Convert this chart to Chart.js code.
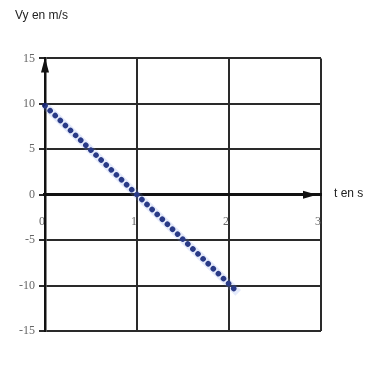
<!DOCTYPE html>
<html lang="fr">
<head>
  <meta charset="UTF-8">
  <title>Vy en fonction de t</title>
  <script src="https://cdn.jsdelivr.net/npm/chart.js"></script>
  <style>
    body {
      margin: 0;
      background: #ffffff;
    }
    .wrap {
      width: 381px;
      height: 365px;
    }
  </style>
</head>
<body>
  <div class="wrap"><canvas id="vy-chart"></canvas></div>

  <script>
    // donnees
    const tValues = [0, 2.1];
    const vyValues = [9.8, -10.8];
    const yTicks = [-15, -10, -5, 0, 5, 10, 15];
    const xTicks = [0, 1, 2, 3];
    const yTitle = 'Vy en m/s';
    const xTitle = 't en s';

    const points = tValues.map((t, i) => ({ x: t, y: vyValues[i] }));

    // fleches des axes + titre de l'axe des t
    const axesPlugin = {
      id: 'axesArrows',
      afterDraw(chart) {
        const ctx = chart.ctx;
        const xs = chart.scales.x;
        const ys = chart.scales.y;
        const x0 = xs.getPixelForValue(0);
        const y0 = ys.getPixelForValue(0);
        const yTop = ys.getPixelForValue(15);
        const xEnd = xs.getPixelForValue(3);
        ctx.save();
        ctx.fillStyle = '#111';
        // fleche verticale
        ctx.beginPath();
        ctx.moveTo(x0, yTop - 1);
        ctx.lineTo(x0 - 4, yTop + 14);
        ctx.lineTo(x0 + 4, yTop + 14);
        ctx.closePath();
        ctx.fill();
        // fleche horizontale
        ctx.beginPath();
        ctx.moveTo(xEnd - 4, y0);
        ctx.lineTo(xEnd - 18, y0 - 4);
        ctx.lineTo(xEnd - 18, y0 + 4);
        ctx.closePath();
        ctx.fill();
        // titre axe t
        ctx.font = '12px "Liberation Sans", Arial, sans-serif';
        ctx.fillStyle = '#222';
        ctx.textBaseline = 'middle';
        ctx.textAlign = 'left';
        ctx.fillText(xTitle, xEnd + 13, y0 - 1);
        ctx.restore();
      }
    };

    new Chart(document.getElementById('vy-chart'), {
      type: 'line',
      data: {
        datasets: [{
          data: points,
          borderColor: 'rgba(120, 150, 235, 0.2)',
          borderWidth: 8,
          pointRadius: 0,
          clip: false
        }, {
          data: points,
          borderColor: '#16236e',
          borderWidth: 5.5,
          borderDash: [0.1, 7],
          borderCapStyle: 'round',
          pointRadius: 0,
          clip: false
        }]
      },
      options: {
        responsive: true,
        maintainAspectRatio: false,
        animation: false,
        layout: {
          padding: { left: 15, right: 60, bottom: 34 }
        },
        plugins: {
          legend: { display: false },
          tooltip: { enabled: false },
          title: {
            display: true,
            text: yTitle,
            align: 'start',
            color: '#222',
            font: { family: '"Liberation Sans", Arial, sans-serif', size: 12, weight: 'normal' },
            padding: { top: 8, bottom: 36 }
          }
        },
        scales: {
          x: {
            type: 'linear',
            position: { y: 0 },
            min: 0,
            max: 3,
            afterBuildTicks: (scale) => { scale.ticks = xTicks.map(v => ({ value: v })); },
            ticks: {
              align: 'end',
              padding: 20,
              color: '#666',
              font: { family: '"Liberation Serif", serif', size: 12 }
            },
            grid: {
              color: '#2a2a2a',
              lineWidth: 2,
              drawTicks: false
            },
            border: {
              display: true,
              color: '#111',
              width: 3
            }
          },
          y: {
            min: -15,
            max: 15,
            afterBuildTicks: (scale) => { scale.ticks = yTicks.map(v => ({ value: v })); },
            ticks: {
              padding: 4,
              color: '#666',
              font: { family: '"Liberation Serif", serif', size: 12 }
            },
            grid: {
              color: '#2a2a2a',
              lineWidth: 2,
              tickLength: 6
            },
            border: {
              display: true,
              color: '#111',
              width: 2.5
            }
          }
        }
      },
      plugins: [axesPlugin]
    });
  </script>
</body>
</html>
